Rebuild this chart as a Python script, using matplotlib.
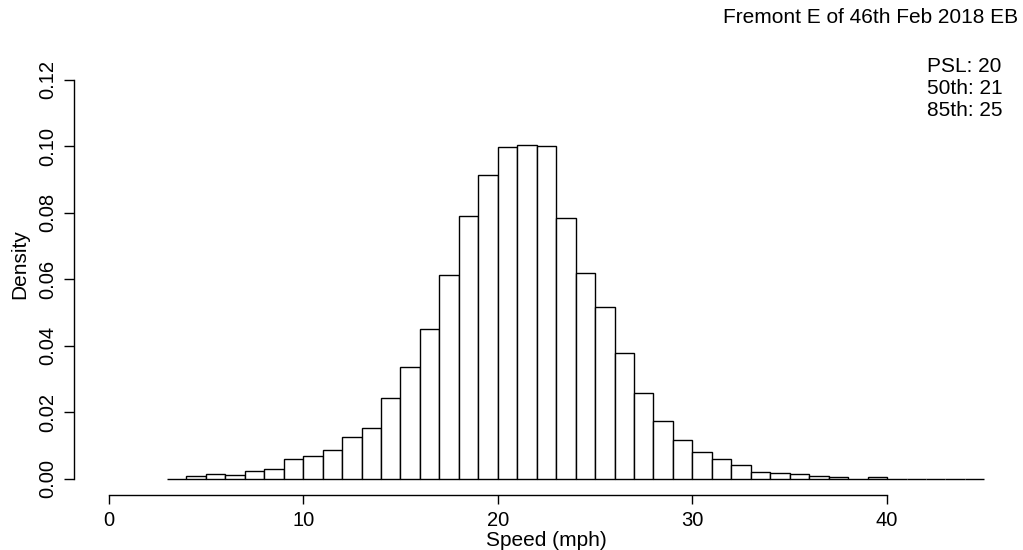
import matplotlib
matplotlib.use("Agg")
import matplotlib.pyplot as plt
import numpy as np

plt.rcParams['font.family'] = ['Liberation Sans', 'DejaVu Sans']

bin_start = 3
bin_width = 1
density = [0, 0.0008, 0.0015, 0.0010, 0.0022, 0.0028, 0.0059, 0.0069, 0.0087, 0.0127,
           0.0152, 0.0242, 0.0337, 0.0450, 0.0613, 0.0791, 0.0912, 0.0998, 0.1005, 0.1002,
           0.0784, 0.0620, 0.0517, 0.0377, 0.0259, 0.0175, 0.0117, 0.0079, 0.0058, 0.0042,
           0.0021, 0.0018, 0.0015, 0.0008, 0.0004, 0, 0.0004, 0, 0, 0, 0, 0]
x_ticks = [0, 10, 20, 30, 40]
y_ticks = [0.00, 0.02, 0.04, 0.06, 0.08, 0.10, 0.12]
title = "Fremont E of 46th Feb 2018 EB"
stats = ["PSL: 20", "50th: 21", "85th: 25"]

W, H = 1023, 550
fig = plt.figure(figsize=(W / 100, H / 100), dpi=100)
l, r, b, t = 73.5, 1019.4, 494.7, 63.7
ax = fig.add_axes([l / W, 1 - b / H, (r - l) / W, (b - t) / H])

lefts = bin_start + np.arange(len(density)) * bin_width
ax.bar(lefts, density, width=bin_width, align='edge', color='white',
       edgecolor='black', linewidth=1.0)

ax.set_xlim(-1.8, 46.8)
ax.set_ylim(-0.0048, 0.1248)
for s in ['top', 'right']:
    ax.spines[s].set_visible(False)
ax.spines['left'].set_bounds(0, 0.12)
ax.spines['bottom'].set_bounds(0, 40)
ax.spines['left'].set_linewidth(1.0)
ax.spines['bottom'].set_linewidth(1.0)
ax.set_xticks(x_ticks)
ax.set_xticklabels([str(v) for v in x_ticks], fontsize=14.5)
ax.set_yticks(y_ticks)
ax.set_yticklabels([f"{v:.2f}" for v in y_ticks], fontsize=14.5, rotation=90, va='center')
ax.tick_params(axis='x', direction='out', length=6.5, width=1.0, pad=5)
ax.tick_params(axis='y', direction='out', length=7, width=1.0, pad=5)

fig.text(546 / W, 1 - 546 / H, "Speed (mph)", ha='center', va='baseline', fontsize=15)
fig.text(20 / W, 1 - 264 / H, "Density", ha='center', va='center', rotation=90, fontsize=15)

fig.text(1018 / W, 1 - 17.5 / H, title, ha='right', va='center', fontsize=15)
for i, s in enumerate(stats):
    fig.text(927 / W, 1 - (67 + 22 * i) / H, s, ha='left', va='center', fontsize=15)

fig.savefig("out.png", dpi=100)
